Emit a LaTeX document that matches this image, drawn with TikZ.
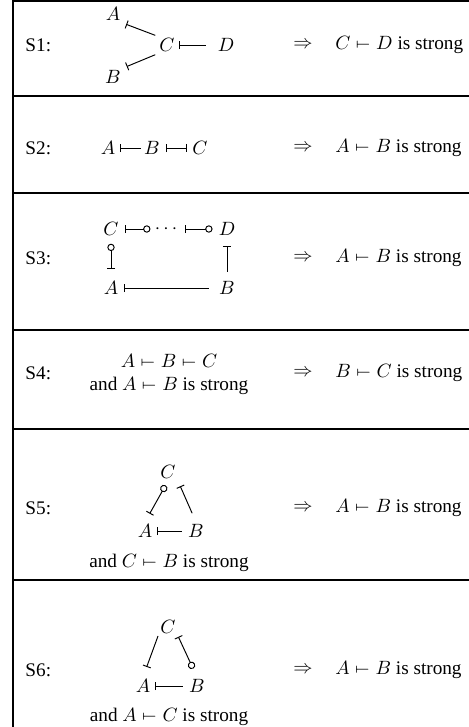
\documentclass[tikz,border=0pt]{standalone}
\usepackage{fontspec}
\setmainfont{Liberation Serif}
\usetikzlibrary{arrows.meta}

\newcommand{\sdash}{\mathrel{\mapstochar\relbar}}

\begin{document}
\begin{tikzpicture}[x=0.52pt, y=-0.52pt, line width=0.5pt,
    var/.style={inner sep=1pt},
    rulename/.style={anchor=west, inner sep=0pt},
    outcome/.style={anchor=west, inner sep=0pt},
    frame/.style={line width=1.05pt},
    tee/.tip={Bar[width=4.3pt]},
    ring/.tip={Circle[open, length=3.8pt, width=3.8pt]},
  ]
  \useasboundingbox (0,0) rectangle (469,727);
  % table lines
  \draw[frame] (13,0) -- (13,727);
  \draw[frame] (13,1) -- (469,1);
  \draw[frame] (13,96) -- (469,96);
  \draw[frame] (13,193) -- (469,193);
  \draw[frame] (13,330) -- (469,330);
  \draw[frame] (13,429) -- (469,429);
  \draw[frame] (13,580) -- (469,580);

  % S1
  \node[rulename] (s1) at (25,45) {S1:};
  \node[var] (a1) at (113,14) {$A$};
  \node[var] (b1) at (113,77) {$B$};
  \node[var] (c1) at (167,45) {$C$};
  \node[var] (d1) at (226,45) {$D$};
  \draw[tee-, shorten <=2pt, shorten >=1pt] (a1.south east) -- (c1.north west);
  \draw[tee-, shorten <=2pt, shorten >=1pt] (b1.north east) -- (c1.south west);
  \draw[tee-, shorten <=1pt, shorten >=5pt] (c1) -- (d1);
  \node (i1) at (303,45) {$\Rightarrow$};
  \node[outcome] (r1) at (335,45) {$C \sdash D$ is strong};

  % S2
  \node[rulename] (s2) at (25,148) {S2:};
  \node[var] (a2) at (108,148) {$A$};
  \node[var] (b2) at (152,148) {$B$};
  \node[var] (c2) at (200,148) {$C$};
  \draw[tee-, shorten <=1.2pt, shorten >=0.5pt] (a2) -- (b2);
  \draw[tee-tee, shorten <=2pt, shorten >=1.5pt] (b2) -- (c2);
  \node (i2) at (303,148) {$\Rightarrow$};
  \node[outcome] (r2) at (335,148) {$A \sdash B$ is strong};

  % S3
  \node[rulename] (s3) at (25,258) {S3:};
  \node[var] (c3) at (111,229) {$C$};
  \node[var] (e3) at (166,229) {$\cdots$};
  \node[var] (d3) at (227,229) {$D$};
  \node[var] (a3) at (111,288) {$A$};
  \node[var] (b3) at (227,288) {$B$};
  \draw[tee-ring, shorten <=2pt, shorten >=1pt] (c3) -- (e3);
  \draw[tee-ring, shorten <=3pt, shorten >=2pt] (e3) -- (d3);
  \draw[ring-tee, shorten <=3pt, shorten >=5pt] (c3) -- (a3);
  \draw[tee-, shorten <=4pt, shorten >=3.6pt] (d3) -- (b3);
  \draw[tee-, shorten <=2pt, shorten >=4pt] (a3) -- (b3);
  \node (i3) at (303,258) {$\Rightarrow$};
  \node[outcome] (r3) at (335,258) {$A \sdash B$ is strong};

  % S4
  \node[rulename] (s4) at (25,373) {S4:};
  \node (p4) at (169,361) {$A \sdash B \sdash C$};
  \node (q4) at (169,386) {and $A \sdash B$ is strong};
  \node (i4) at (303,373) {$\Rightarrow$};
  \node[outcome] (r4) at (335,373) {$B \sdash C$ is strong};

  % S5
  \node[rulename] (s5) at (25,508) {S5:};
  \node[var] (c5) at (168,472) {$C$};
  \node[var] (a5) at (145,531) {$A$};
  \node[var] (b5) at (196,531) {$B$};
  \draw[tee-ring, shorten <=5pt, shorten >=2.6pt] (a5.north) -- (c5.south);
  \draw[tee-, shorten <=3pt, shorten >=5pt] (c5.south east) -- (b5.north);
  \draw[tee-, shorten <=1pt, shorten >=2.2pt] (a5) -- (b5);
  \node (q5) at (169,563) {and $C \sdash B$ is strong};
  \node (i5) at (303,508) {$\Rightarrow$};
  \node[outcome] (r5) at (335,508) {$A \sdash B$ is strong};

  % S6
  \node[rulename] (s6) at (25,670) {S6:};
  \node[var] (c6) at (168,627) {$C$};
  \node[var] (a6) at (143,686) {$A$};
  \node[var] (b6) at (197,686) {$B$};
  \draw[-tee, shorten >=5.6pt] (c6.south west) -- (a6.north);
  \draw[tee-ring, shorten <=0.5pt, shorten >=4.8pt] (c6.south east) -- (b6.north);
  \draw[tee-, shorten <=1pt, shorten >=2.2pt] (a6) -- (b6);
  \node (q6) at (169,717) {and $A \sdash C$ is strong};
  \node (i6) at (303,670) {$\Rightarrow$};
  \node[outcome] (r6) at (335,670) {$A \sdash B$ is strong};
\end{tikzpicture}
\end{document}
